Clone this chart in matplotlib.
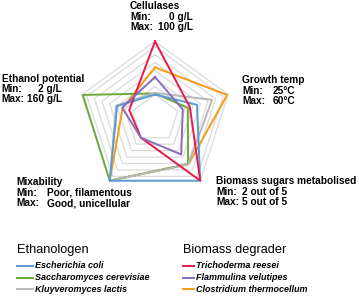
import numpy as np
import matplotlib.pyplot as plt

# axes order, clockwise from top
axes_names = ['Cellulases', 'Growth temp', 'Biomass sugars metabolised',
              'Mixability', 'Ethanol potential']

# scores on each axis (0 = min, 1 = max)
e_coli = [0.00, 0.38, 1.00, 1.00, 0.30]
s_cerevisiae = [0.02, 0.20, 0.61, 1.00, 0.98]
k_lactis = [0.03, 0.68, 0.62, 1.00, 0.32]
t_reesei = [1.00, 0.24, 1.00, 0.00, 0.06]
f_velutipes = [0.33, 0.10, 0.39, 0.00, 0.20]
c_thermocellum = [0.51, 0.98, 0.62, 1.00, 0.19]

ethanologens = ['Escherichia coli', 'Saccharomyces cerevisiae', 'Kluyveromyces lactis']
degraders = ['Trichoderma reesei', 'Flammulina velutipes', 'Clostridium thermocellum']

ring_levels = [0.0, 0.15, 0.30, 0.45, 0.60, 0.75, 0.90, 1.0]

W, H = 359, 296
fig = plt.figure(figsize=(W / 100, H / 100), dpi=100)
plt.rcParams['font.family'] = 'Liberation Sans'

cx, cy, R = 155, 118.4, 77
ax = fig.add_axes([(cx - R) / W, (H - cy - R) / H, 2 * R / W, 2 * R / H], polar=True)
ax.set_theta_offset(np.pi / 2)
ax.set_theta_direction(-1)
ax.set_ylim(-0.45, 1.0)
ax.axis('off')

theta = np.linspace(0, 2 * np.pi, len(axes_names), endpoint=False)
theta_c = np.append(theta, theta[0])

for lv in ring_levels:
    ax.plot(theta_c, [lv] * len(theta_c), color='#dadada', lw=0.9, zorder=1)

c_blue, c_green, c_gray = '#5b9bd5', '#6aaa3a', '#b8b8b8'
c_red, c_purple, c_orange = '#e8194b', '#8a6cbf', '#f79a14'

series = [
    (c_thermocellum, c_orange, 2),
    (s_cerevisiae, c_green, 3),
    (k_lactis, c_gray, 4),
    (e_coli, c_blue, 5),
    (t_reesei, c_red, 6),
    (f_velutipes, c_purple, 6),
]
for vals, col, z in series:
    ax.plot(theta_c, vals + vals[:1], color=col, lw=1.4, zorder=z, clip_on=False)


def px(x, y):
    return x / W, 1 - y / H


lab = dict(fontsize=7.3, fontweight='bold', va='center')


def block(x, y, title, vmin, vmax, xval, ha='right', dy=10.6):
    fig.text(*px(x, y), title, **lab)
    fig.text(*px(x, y + dy), 'Min:', **lab)
    fig.text(*px(x, y + 2 * dy), 'Max:', **lab)
    fig.text(*px(xval, y + dy), vmin, ha=ha, **lab)
    fig.text(*px(xval, y + 2 * dy), vmax, ha=ha, **lab)


block(130, 6, 'Cellulases', '0 g/L', '100 g/L', 193)
block(242.5, 80, 'Growth temp', '25°C', '60°C', 295)
block(216.5, 181, 'Biomass sugars metabolised', '2 out of 5', '5 out of 5', 242, ha='left')
block(16.5, 182, 'Mixability', 'Poor, filamentous', 'Good, unicellular', 47, ha='left')
block(1.5, 79, 'Ethanol potential', '2 g/L', '160 g/L', 62, dy=10.0)

# legends
fig.text(*px(16.5, 250), 'Ethanologen', fontsize=9.2, va='center')
fig.text(*px(183, 250), 'Biomass degrader', fontsize=9.2, va='center')
leg = dict(fontsize=6.5, fontweight='bold', style='italic', va='center')
rows = [266, 277.5, 289]
for name, col, y in zip(ethanologens, [c_blue, c_green, c_gray], rows):
    fig.add_artist(plt.Line2D([16.5 / W, 33 / W], [1 - y / H] * 2, color=col, lw=1.4))
    fig.text(*px(35, y), name, **leg)
for name, col, y in zip(degraders, [c_red, c_purple, c_orange], rows):
    fig.add_artist(plt.Line2D([183 / W, 194 / W], [1 - y / H] * 2, color=col, lw=1.4))
    fig.text(*px(196, y), name, **leg)

fig.savefig('out.png', dpi=100)
